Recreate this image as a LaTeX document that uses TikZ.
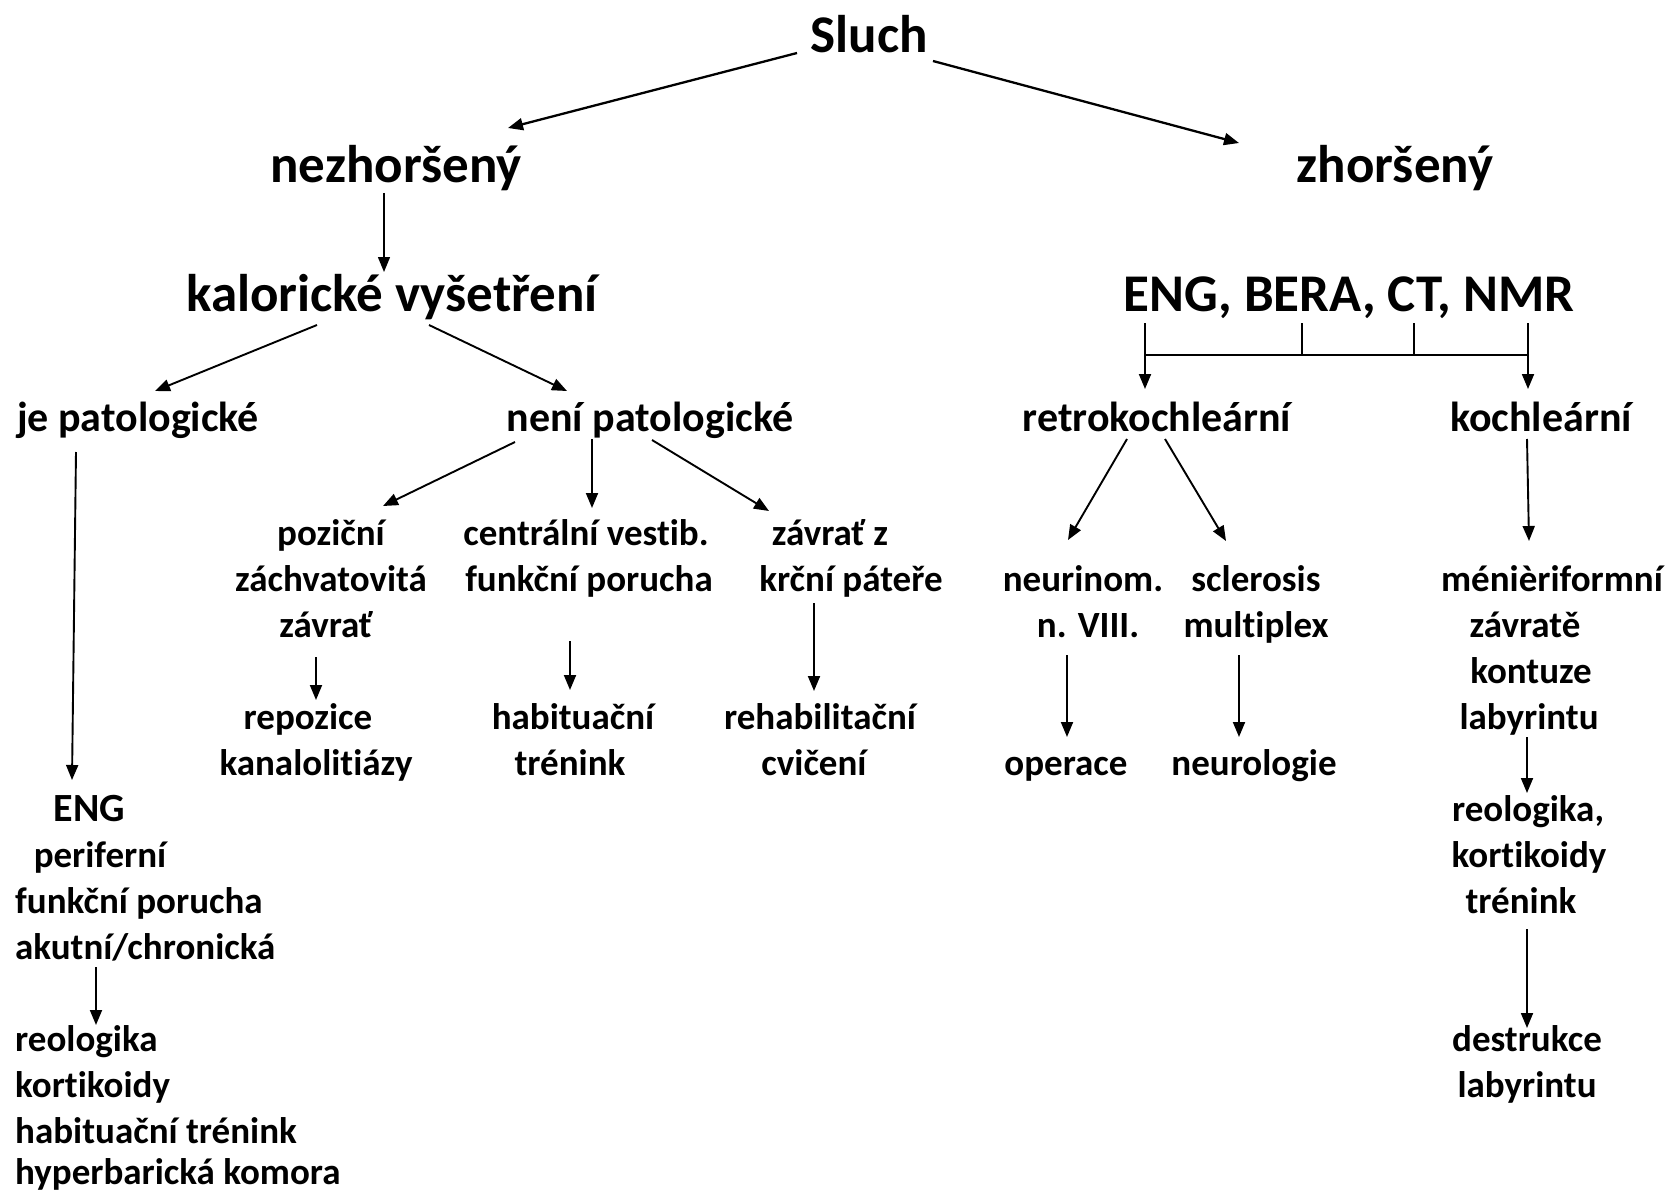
\documentclass[tikz,border=0pt]{standalone}
\usepackage{fontspec}
\setmainfont{Carlito}[Ligatures={NoCommon,NoContextual}]
\usetikzlibrary{arrows.meta}
\begin{document}
\begin{tikzpicture}[x=1pt,y=-1pt,
  big/.style={font=\fontsize{53}{64}\selectfont\bfseries,inner sep=0pt,anchor=base},
  mid/.style={font=\fontsize{42}{50}\selectfont\bfseries,inner sep=0pt,anchor=base},
  sm/.style={font=\fontsize{37}{46}\selectfont\bfseries,inner sep=0pt,anchor=base},
  sml/.style={sm,anchor=base west},
  arr/.style={line width=1.9pt,-{Triangle[length=15pt,width=12pt]}},
  arrthick/.style={arr,line width=2.3pt},
  arrthin/.style={arr,line width=1.4pt},
  brk/.style={line width=1.5pt}]
\useasboundingbox (0,0) rectangle (1670,1193);
% headings
\node[big] (sluch) at (869,53) {Sluch};
\node[big] (nezh) at (396,183) {nezhoršený};
\node[big] (zhor) at (1395,183) {zhoršený};
\node[big] (kalor) at (392,311) {kalorické vyšetření};
\node[big] (eng1) at (1349,311) {ENG, BERA, CT, NMR};
\node[mid] (jepat) at (138,431) {je patologické};
\node[mid] (nenipat) at (650,431) {není patologické};
\node[mid] (retro) at (1157,431) {retrokochleární};
\node[mid] (koch) at (1541,431) {kochleární};
% small texts
\node[sm] (p1) at (331,545) {poziční};
\node[sm] (p2) at (331,591) {záchvatovitá};
\node[sm] (p3) at (326,637) {závrať};
\node[sm] (c1) at (586,545) {centrální vestib.};
\node[sm] (c2) at (589,591) {funkční porucha};
\node[sm] (z1) at (830,545) {závrať z};
\node[sm] (z2) at (851,591) {krční páteře};
\node[sm] (r1) at (308,729) {repozice};
\node[sm] (r2) at (316,775) {kanalolitiázy};
\node[sm] (h1) at (573,729) {habituační};
\node[sm] (h2) at (570,775) {trénink};
\node[sm] (rh1) at (820,729) {rehabilitační};
\node[sm] (rh2) at (814,775) {cvičení};
\node[sm] (n1) at (1083,591) {neurinom.};
\node[sm] (n2) at (1088,637) {n. VIII.};
\node[sm] (s1) at (1256,591) {sclerosis};
\node[sm] (s2) at (1256,637) {multiplex};
\node[sm] (op) at (1066,775) {operace};
\node[sm] (neu) at (1254,775) {neurologie};
\node[sm] (m1) at (1552,591) {ménièriformní};
\node[sm] (m2) at (1525,637) {závratě};
\node[sm] (m3) at (1531,683) {kontuze};
\node[sm] (m4) at (1529,729) {labyrintu};
\node[sm] (rk1) at (1528,821) {reologika,};
\node[sm] (rk2) at (1529,867) {kortikoidy};
\node[sm] (rk3) at (1521,913) {trénink};
\node[sm] (d1) at (1527,1051) {destrukce};
\node[sm] (d2) at (1527,1097) {labyrintu};
\node[sm,font=\fontsize{40}{46}\selectfont\bfseries] (eng) at (89.5,821) {ENG};
\node[sm] (per) at (100,867) {periferní};
\node[sml] (fp) at (15,913) {funkční porucha};
\node[sml] (ak) at (15,959) {akutní/chronická};
\node[sml] (reo) at (15,1051) {reologika};
\node[sml] (kor) at (15,1097) {kortikoidy};
\node[sml] (hab) at (15,1143) {habituační trénink};
\node[sml] (hyp) at (15,1184) {hyperbarická komora};
% connectors
\draw[arrthick] ([shift={(-72,0)}]sluch.base) -- ([shift={(112,-55)}]nezh.base);
\draw[arrthick] ([shift={(64,8)}]sluch.base) -- ([shift={(-156,-40)}]zhor.base);
\draw[arrthin] ([shift={(-12,10)}]nezh.base) -- ([shift={(-8,-39)}]kalor.base);
\draw[arr] ([shift={(-75,14)}]kalor.base) -- ([shift={(17,-40)}]jepat.base);
\draw[arr] ([shift={(37,14)}]kalor.base) -- ([shift={(-83,-40)}]nenipat.base);
% bracket
\draw[arr] ([shift={(-204,12)}]eng1.base) -- ([shift={(-12,-42)}]retro.base);
\draw[arr] ([shift={(179,12)}]eng1.base) -- ([shift={(-13,-42)}]koch.base);
\draw[brk,line width=2.2pt] ([shift={(-204,44)}]eng1.base) -- ([shift={(179,44)}]eng1.base);
\draw[brk] ([shift={(-47,12)}]eng1.base) -- ([shift={(-47,44)}]eng1.base);
\draw[brk] ([shift={(65,12)}]eng1.base) -- ([shift={(65,44)}]eng1.base);
% left branch
\draw[arr] ([shift={(-62,21)}]jepat.base) -- ([shift={(-17.5,-41)}]eng.base);
\draw[arr] ([shift={(81,8)}]ak.base west) -- ([shift={(81,-26)}]reo.base west);
% není patologické
\draw[arr] ([shift={(-135,11)}]nenipat.base) -- ([shift={(52,-39)}]p1.base);
\draw[arr] ([shift={(-58,8)}]nenipat.base) -- ([shift={(6,-37)}]c1.base);
\draw[arr] ([shift={(2,9)}]nenipat.base) -- ([shift={(-61,-34)}]z1.base);
\draw[arr] ([shift={(-10,20)}]p3.base) -- ([shift={(8,-29)}]r1.base);
\draw[arr] ([shift={(-19,50)}]c2.base) -- ([shift={(-3,-39)}]h1.base);
\draw[arr] ([shift={(-37,12)}]z2.base) -- ([shift={(-6,-38)}]rh1.base);
% right side
\draw[arr] ([shift={(-30,8)}]retro.base) -- ([shift={(-15,-51)}]n1.base);
\draw[arr] ([shift={(8,8)}]retro.base) -- ([shift={(-30,-50)}]s1.base);
\draw[arr] ([shift={(-14,8)}]koch.base) -- ([shift={(-23,-50)}]m1.base);
\draw[arr] ([shift={(-21,18)}]n2.base) -- ([shift={(1,-38)}]op.base);
\draw[arr] ([shift={(-17,18)}]s2.base) -- ([shift={(-15,-38)}]neu.base);
\draw[arr] ([shift={(-2,8)}]m4.base) -- ([shift={(-1,-28)}]rk1.base);
\draw[arr] ([shift={(6,16)}]rk3.base) -- ([shift={(0,-23)}]d1.base);
\end{tikzpicture}
\end{document}
